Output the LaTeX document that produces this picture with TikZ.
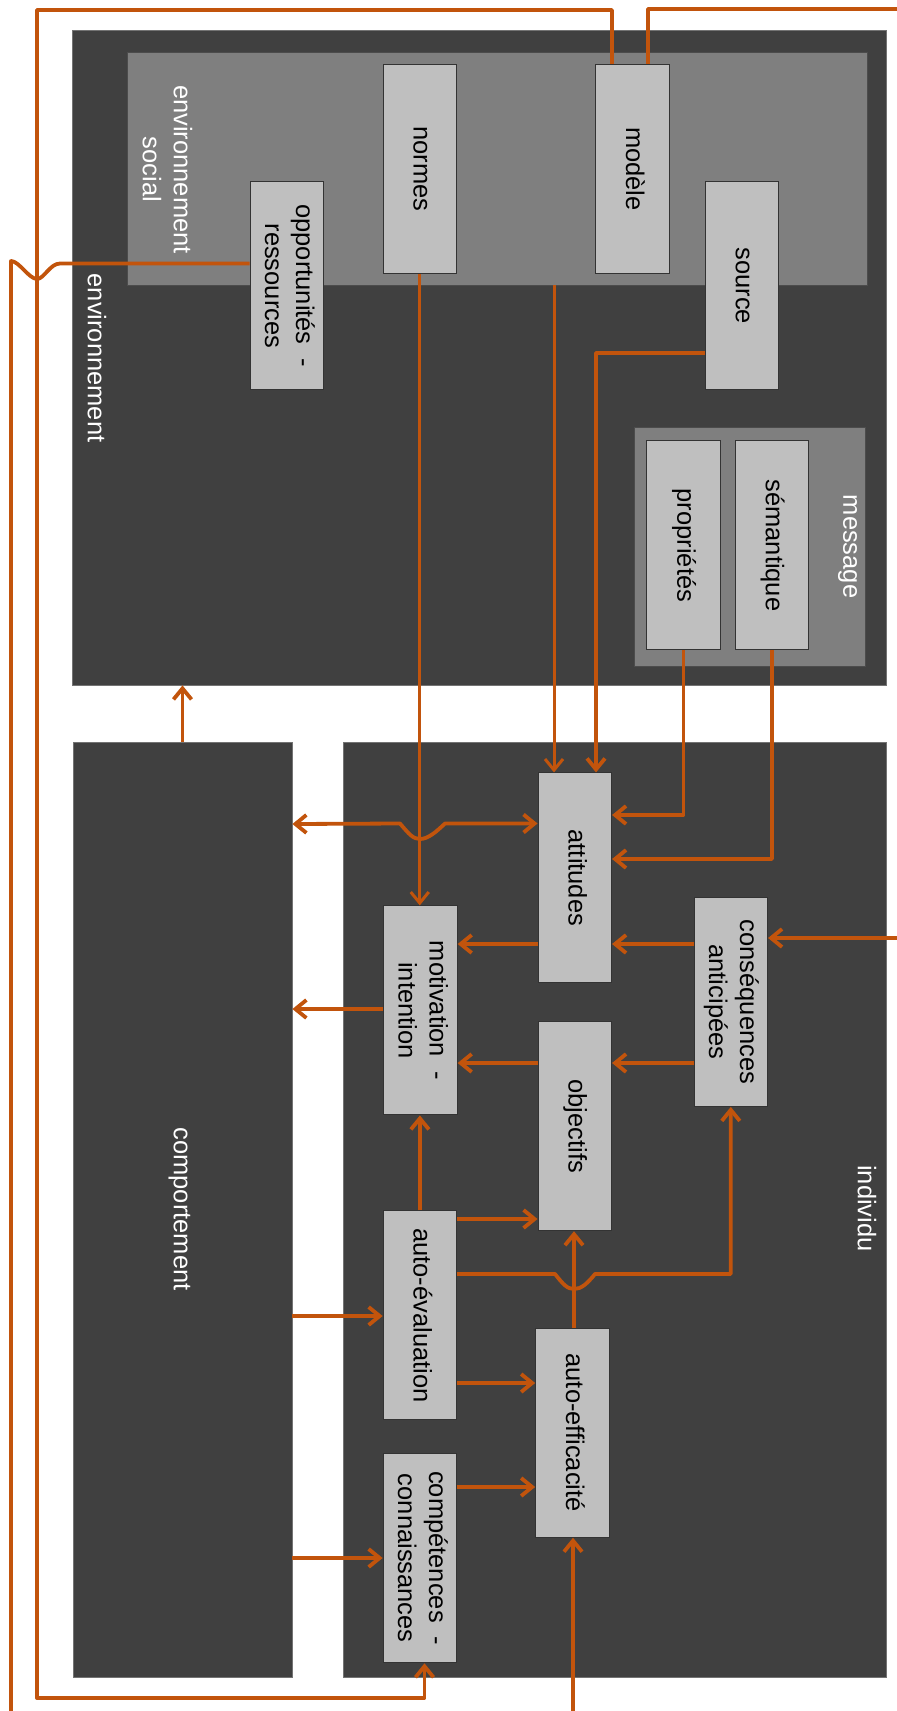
\documentclass[tikz,border=0pt]{standalone}
\usepackage{fontspec}
\setmainfont{Liberation Sans}
\usetikzlibrary{arrows.meta}
\definecolor{dk}{RGB}{64,64,64}
\definecolor{md}{RGB}{127,127,127}
\definecolor{lt}{RGB}{191,191,191}
\definecolor{orng}{RGB}{194,84,12}
\newcommand{\rt}[1]{\rotatebox{-90}{\begin{tabular}{@{}c@{}}#1\end{tabular}}}
\tikzset{
  big/.style={draw=black!55, line width=0.8pt, fill=dk, inner sep=0pt},
  mid/.style={draw=black!70, line width=0.8pt, fill=md, inner sep=0pt},
  item/.style={draw=black!80, line width=1pt, fill=lt, inner sep=0pt,
     minimum width=73.5pt, minimum height=209pt, text=black},
  lbl/.style={inner sep=0pt, text=white},
  con/.style={draw=orng, line width=3.8pt, line join=round},
  thin/.style={draw=orng, line width=3pt, line join=round},
  tip/.style={-{Straight Barb[length=11pt,width=18pt]}},
  both/.style={{Straight Barb[length=11pt,width=18pt]}-{Straight Barb[length=11pt,width=18pt]}}
}
\begin{document}
\begin{tikzpicture}[x=1pt,y=-1pt,font=\fontsize{25.5}{31}\selectfont]
\useasboundingbox (0,0) rectangle (897,1711);
% containers
\node[big, minimum width=814pt, minimum height=655pt] (env) at (479.7,357.5) {};
\node[mid, minimum width=740pt, minimum height=233pt] (social) at (497,168.5) {};
\node[mid, minimum width=231pt, minimum height=239pt] (message) at (749.5,546.5) {};
\node[big, minimum width=219pt, minimum height=935pt] (comportement) at (182.5,1209.5) {};
\node[big, minimum width=543pt, minimum height=935pt] (individu) at (615.25,1209.5) {};
% container labels
\node[lbl] (envlbl) at (94,358) {\rt{environnement}};
\node[lbl] (sociallbl) at (164.5,169.5) {\rt{environnement\\social}};
\node[lbl] (messagelbl) at (849.5,546.5) {\rt{message}};
\node[lbl] (comportementlbl) at (180,1209) {\rt{comportement}};
\node[lbl] (individulbl) at (864,1208.5) {\rt{individu}};
% items
\node[item] (normes) at (419.75,169) {\rt{normes}};
\node[item] (modele) at (632.4,169) {\rt{modèle}};
\node[item, minimum height=208pt] (opp) at (286.9,285.9) {\rt{opportunités\ \ -\\ressources}};
\node[item, minimum height=208pt] (source) at (742,285.9) {\rt{source}};
\node[item] (proprietes) at (683.5,545.4) {\rt{propriétés}};
\node[item] (semantique) at (772,545.4) {\rt{sémantique}};
\node[item, minimum height=210pt] (attitudes) at (574.8,877.9) {\rt{attitudes}};
\node[item] (motivation) at (420.4,1010.4) {\rt{motivation\ \ -\\intention}};
\node[item] (consequences) at (730.8,1001.9) {\rt{conséquences\\anticipées}};
\node[item] (objectifs) at (574.8,1126.2) {\rt{objectifs}};
\node[item] (autoeval) at (419.9,1315.4) {\rt{auto-évaluation}};
\node[item] (autoeff) at (572.4,1432.7) {\rt{auto-efficacité}};
\node[item] (competences) at (419.9,1558.3) {\rt{compétences\ \ -\\connaissances}};
% free ends
\coordinate (rightA) at (897,9);
\coordinate (rightB) at (897,938);
\coordinate (bottomA) at (11,1711);
\coordinate (bottomB) at (573,1711);
% connectors
\draw[con, tip] (modele.north -| 612,0) -- (612,10) -- (37,10) -- (37,1698) -- (424.5,1698) -- (competences.south -| 424.5,0);
\draw[con] (modele.north -| 648,0) -- (648,9) -- (rightA);
\draw[con] (opp.west |- 0,263.5) -- (60,263.5) .. controls (50,263.5) and (44,279) .. (37,279)
   .. controls (29,279) and (19,261) .. (11,261) -- (bottomA);
\draw[thin, tip] (social.south -| 554,0) -- (attitudes.north -| 554,0);
\draw[con, tip] (source.west |- 0,353) -- (596,353) -- (attitudes.north -| 596,0);
\draw[thin, tip] (normes.south) -- (normes.south |- motivation.north);
\draw[con, tip] (proprietes.south) -- (proprietes.south |- 0,815) -- (attitudes.east |- 0,815);
\draw[con, tip] (semantique.south) -- (semantique.south |- 0,859) -- (attitudes.east |- 0,859);
\draw[con, tip] (comportement.north) -- (comportement.north |- env.south);
\draw[con, both] (comportement.east |- 0,824) -- (400,823.5) .. controls (409,834) and (413,839) .. (420,839)
   .. controls (428,839) and (436,832) .. (445,823.5) -- (attitudes.west |- 0,823.5);
\draw[con, tip] (attitudes.west |- 0,944) -- (motivation.east |- 0,944);
\draw[con, tip] (consequences.west |- 0,944) -- (attitudes.east |- 0,944);
\draw[con, tip] (motivation.west |- 0,1009) -- (comportement.east |- 0,1009);
\draw[con, tip] (objectifs.west |- 0,1063) -- (motivation.east |- 0,1063);
\draw[con, tip] (consequences.west |- 0,1063) -- (objectifs.east |- 0,1063);
\draw[con, tip] (rightB) -- (consequences.east |- rightB);
\draw[con, tip] (autoeval.north) -- (autoeval.north |- motivation.south);
\draw[con, tip] (autoeval.east |- 0,1219) -- (objectifs.west |- 0,1219);
\draw[con, tip] (autoeval.east |- 0,1274) -- (555,1274) .. controls (563,1284) and (567,1289) .. (574,1289)
   .. controls (581,1289) and (587,1284) .. (595,1274) -- (consequences.south |- 0,1274) -- (consequences.south);
\draw[con, tip] (autoeff.north -| 574,0) -- (objectifs.south -| 574,0);
\draw[con, tip] (autoeval.east |- 0,1383) -- (autoeff.west |- 0,1383);
\draw[con, tip] (comportement.east |- 0,1316) -- (autoeval.west |- 0,1316);
\draw[con, tip] (competences.east |- 0,1487) -- (autoeff.west |- 0,1487);
\draw[con, tip] (comportement.east |- 0,1558) -- (competences.west |- 0,1558);
\draw[con, tip] (bottomB) -- (autoeff.south -| bottomB);
\end{tikzpicture}
\end{document}
